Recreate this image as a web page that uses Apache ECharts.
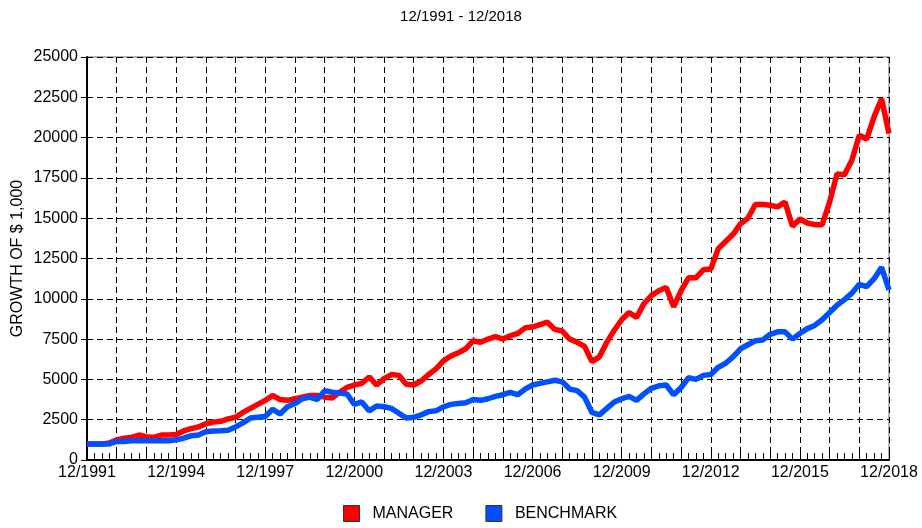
<!DOCTYPE html>
<html>
<head>
<meta charset="utf-8">
<script src="https://cdn.jsdelivr.net/npm/echarts@6/dist/echarts.min.js"></script>
<style>
	html, body { margin: 0; padding: 0; background: #fff; }
	#chart { width: 922px; height: 528px; }
</style>
</head>
<body>
<div id="chart"></div>
<script>
	// quarterly points, 12/1991 .. 12/2018
	const months = ["12", "3", "6", "9"]
	const quarters = []
	for (let i = 0; i <= 108; i++) {
		const m = months[i % 4]
		const y = 1991 + Math.ceil(i / 4)
		quarters.push(m + "/" + y)
	}

	const manager = [
		1000, 1000, 1000, 1050, 1250, 1350, 1400, 1550, 1450, 1400, 1550, 1550,
		1580, 1800, 1950, 2050, 2250, 2350, 2400, 2550, 2650, 2950, 3200, 3450,
		3700, 4000, 3750, 3700, 3800, 3900, 4000, 4000, 3900, 3850, 4200, 4500,
		4650, 4750, 5150, 4650, 5050, 5300, 5250, 4700, 4650, 4900, 5300, 5650,
		6150, 6450, 6650, 6900, 7400, 7300, 7500, 7650, 7500, 7700, 7850, 8200,
		8250, 8400, 8550, 8100, 8000, 7500, 7300, 7050, 6100, 6400, 7300, 8050,
		8700, 9150, 8850, 9700, 10200, 10500, 10700, 9500, 10500, 11300, 11300, 11800,
		11850, 13100, 13550, 14000, 14650, 15000, 15850, 15850, 15800, 15700, 16000, 14500,
		14950, 14700, 14600, 14600, 16000, 17750, 17700, 18600, 20150, 19900, 21300, 22400,
		20250,
	]

	const benchmark = [
		1000, 1000, 1000, 1000, 1150, 1150, 1200, 1200, 1200, 1200, 1200, 1200,
		1250, 1350, 1500, 1550, 1750, 1800, 1820, 1850, 2050, 2300, 2600, 2650,
		2700, 3150, 2850, 3300, 3500, 3800, 3900, 3750, 4300, 4200, 4150, 4100,
		3450, 3600, 3050, 3350, 3300, 3200, 2900, 2600, 2650, 2800, 3000, 3050,
		3300, 3450, 3500, 3550, 3750, 3700, 3800, 3950, 4050, 4200, 4050, 4400,
		4650, 4750, 4850, 4950, 4850, 4400, 4300, 3900, 2950, 2800, 3200, 3600,
		3800, 3950, 3700, 4100, 4450, 4600, 4650, 4050, 4500, 5100, 5000, 5250,
		5300, 5750, 6000, 6400, 6900, 7150, 7400, 7450, 7800, 7950, 7950, 7500,
		7850, 8150, 8350, 8700, 9150, 9600, 9950, 10350, 10900, 10750, 11250, 11950,
		10550,
	]

	const font = "'Liberation Sans', Arial, sans-serif"
	const dashed = { color: "#000", width: 1, type: [6, 4] }

	const chartInstance = echarts.init(document.getElementById("chart"))

	const options = {
		animation: false,
		title: {
			text: "12/1991 - 12/2018",
			left: "center",
			top: 4,
			textStyle: { fontFamily: font, fontSize: 15, fontWeight: "normal", color: "#000" },
		},
		legend: {
			bottom: 1,
			left: 338,
			icon: "rect",
			itemWidth: 16,
			itemHeight: 16,
			itemGap: 32,
			itemStyle: { borderColor: "#333", borderWidth: 1 },
			textStyle: { fontFamily: font, fontSize: 16, color: "#000", padding: [0, 0, 0, 8] },
			data: ["MANAGER", "BENCHMARK"],
		},
		grid: {
			top: 57,
			left: 87,
			right: 33,
			bottom: 68,
			show: true,
			borderColor: "#666",
			borderWidth: 1,
		},
		xAxis: {
			type: "category",
			boundaryGap: false,
			data: quarters,
			axisLine: { lineStyle: { color: "#000", width: 2 } },
			axisTick: { interval: 0, inside: true, length: 7, lineStyle: { color: "#000", width: 1 } },
			axisLabel: {
				interval: 11,
				fontFamily: font,
				fontSize: 16,
				color: "#000",
				margin: 5,
			},
			splitLine: {
				show: true,
				interval: (i) => i % 4 === 0,
				lineStyle: dashed,
			},
		},
		yAxis: {
			type: "value",
			min: 0,
			max: 25000,
			interval: 2500,
			name: "GROWTH OF $ 1,000",
			nameLocation: "middle",
			nameGap: 61,
			nameMoveOverlap: false,
			nameTextStyle: { fontFamily: font, fontSize: 16, color: "#000" },
			axisLine: { show: true, lineStyle: { color: "#000", width: 2 } },
			axisTick: { show: true, length: 6, lineStyle: { color: "#000" } },
			axisLabel: {
				fontFamily: font,
				fontSize: 16,
				color: "#000",
				margin: 9,
				formatter: (v) => String(v),
			},
			splitLine: { show: true, lineStyle: dashed },
		},
		series: [
			{
				name: "MANAGER",
				type: "line",
				data: manager,
				symbol: "none",
				color: "#ff0000",
				lineStyle: { width: 5.5, color: "#ff0000" },
			},
			{
				name: "BENCHMARK",
				type: "line",
				data: benchmark,
				symbol: "none",
				color: "#0050ff",
				lineStyle: { width: 5.5, color: "#0050ff" },
			},
		],
	}

	chartInstance.setOption(options)
</script>
</body>
</html>
